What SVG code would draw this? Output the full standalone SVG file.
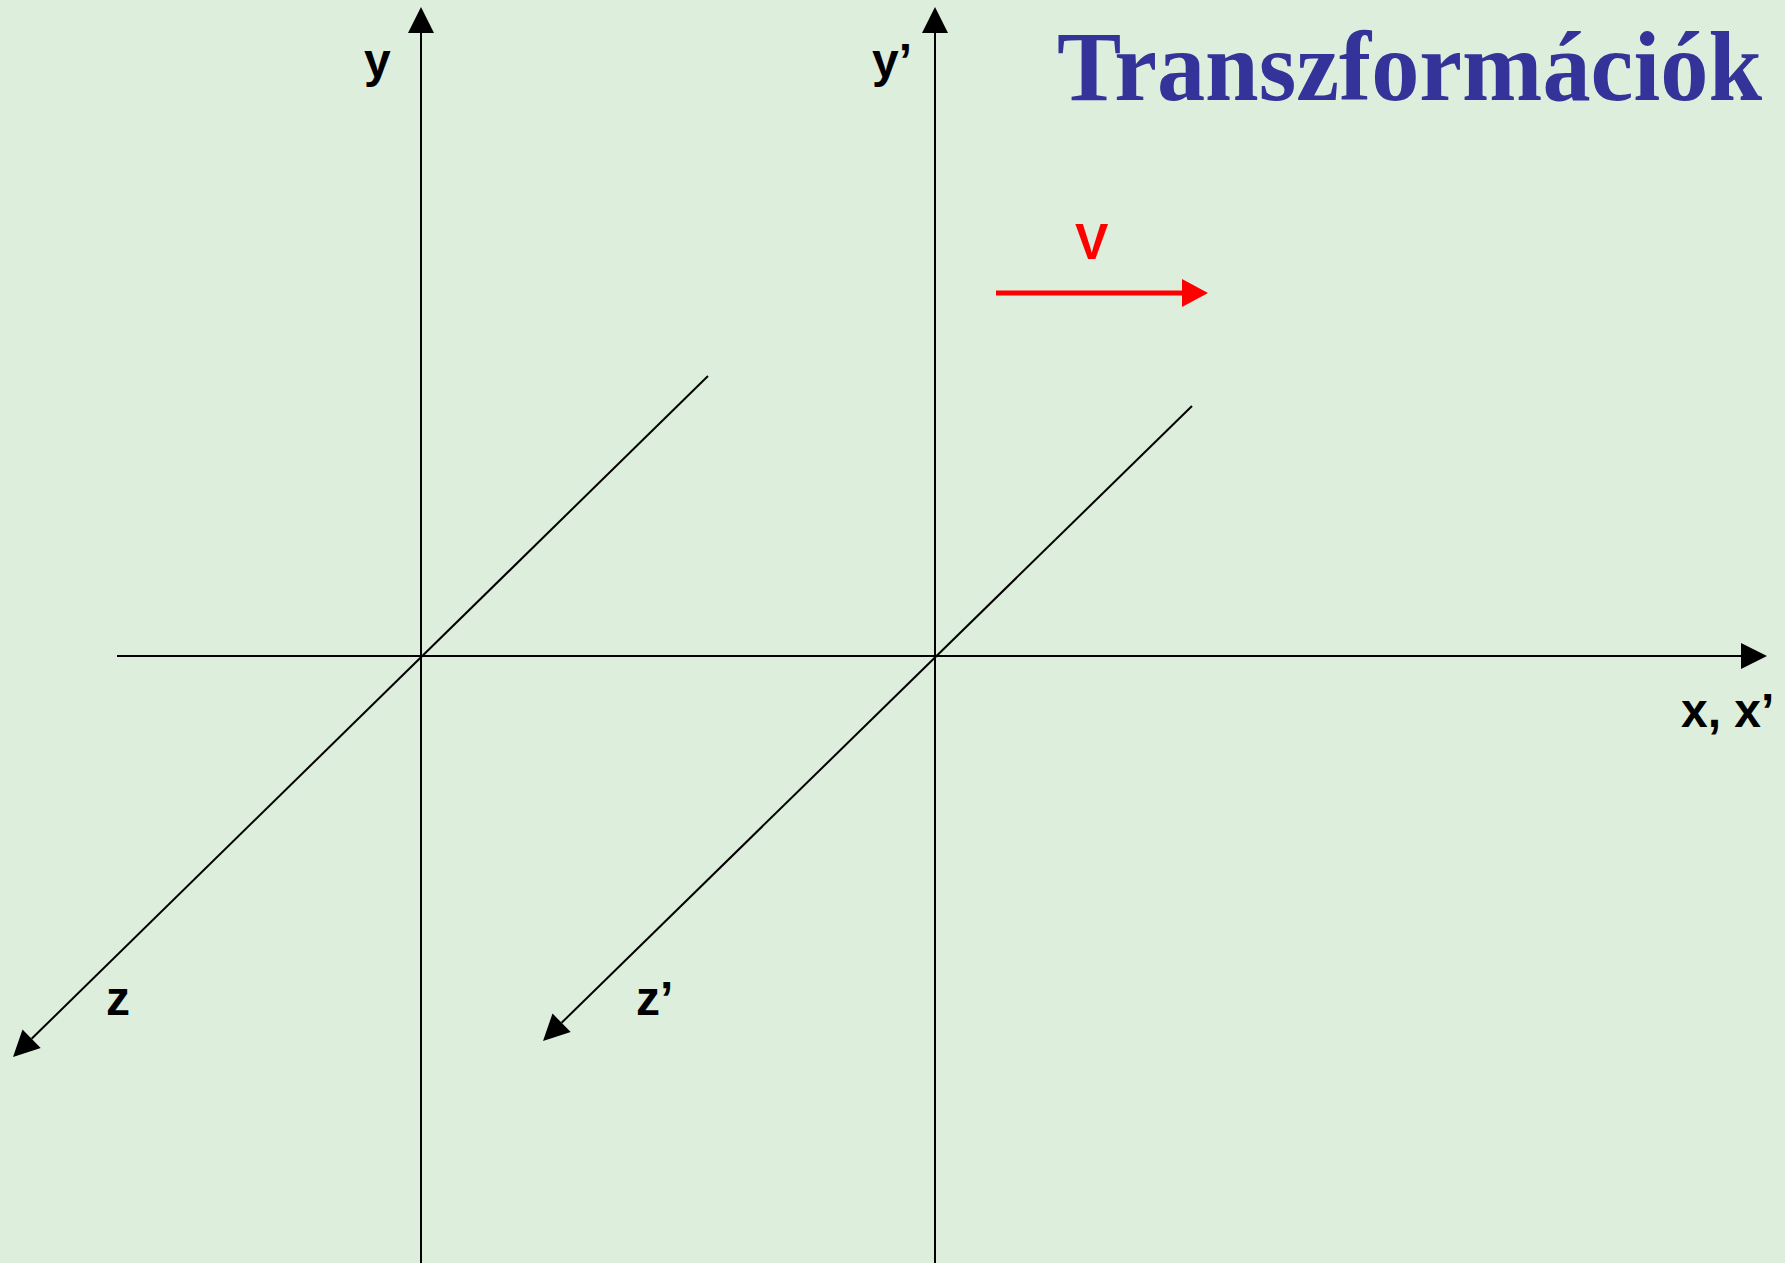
<svg xmlns="http://www.w3.org/2000/svg" width="1785" height="1263" viewBox="0 0 1785 1263">
<style>
.ax{stroke:#000;stroke-width:2;fill:none}
.lbl{font-family:"Liberation Sans",Arial,sans-serif;font-weight:bold;font-size:48px;fill:#000}
.title{font-family:"Liberation Serif","Times New Roman",serif;font-weight:bold;font-size:99px;fill:#333399}
</style>
<defs>
<marker id="ah" markerUnits="userSpaceOnUse" markerWidth="26" markerHeight="26" viewBox="0 0 26 26" refX="0" refY="13" orient="auto" overflow="visible">
<path d="M0,0 L26,13 L0,26 Z" fill="#000"/>
</marker>
<marker id="ahr" markerUnits="userSpaceOnUse" markerWidth="26" markerHeight="28" viewBox="0 0 26 28" refX="0" refY="14" orient="auto" overflow="visible">
<path d="M0,0 L26,14 L0,28 Z" fill="#FF0000"/>
</marker>
</defs>
<rect width="1785" height="1263" fill="#DDEEDC"/>
<g id="connectors">
<line class="ax" x1="421" y1="1263" x2="421" y2="33" marker-end="url(#ah)"/>
<line class="ax" x1="935" y1="1263" x2="935" y2="33" marker-end="url(#ah)"/>
<line class="ax" x1="117" y1="656" x2="1741" y2="656" marker-end="url(#ah)"/>
<line class="ax" x1="708" y1="376" x2="31.6" y2="1038.8" marker-end="url(#ah)"/>
<line class="ax" x1="1192" y1="406" x2="561.6" y2="1022.8" marker-end="url(#ah)"/>
<line x1="996" y1="293" x2="1182" y2="293" stroke="#FF0000" stroke-width="5" marker-end="url(#ahr)"/>
</g>
<g id="label-y"><text class="lbl" x="364" y="77">y</text></g>
<g id="label-y2"><text class="lbl" x="872" y="77">y’</text></g>
<g id="label-x"><text class="lbl" x="1681" y="727">x, x’</text></g>
<g id="label-z"><text class="lbl" x="106" y="1015">z</text></g>
<g id="label-z2"><text class="lbl" x="636" y="1015">z’</text></g>
<g id="label-v"><text x="1075" y="259" style="font-family:'Liberation Sans',Arial,sans-serif;font-weight:bold;font-size:50px;fill:#FF0000">V</text></g>
<g id="title"><text class="title" x="1057" y="100" textLength="705" lengthAdjust="spacingAndGlyphs">Transzformációk</text></g>
</svg>
